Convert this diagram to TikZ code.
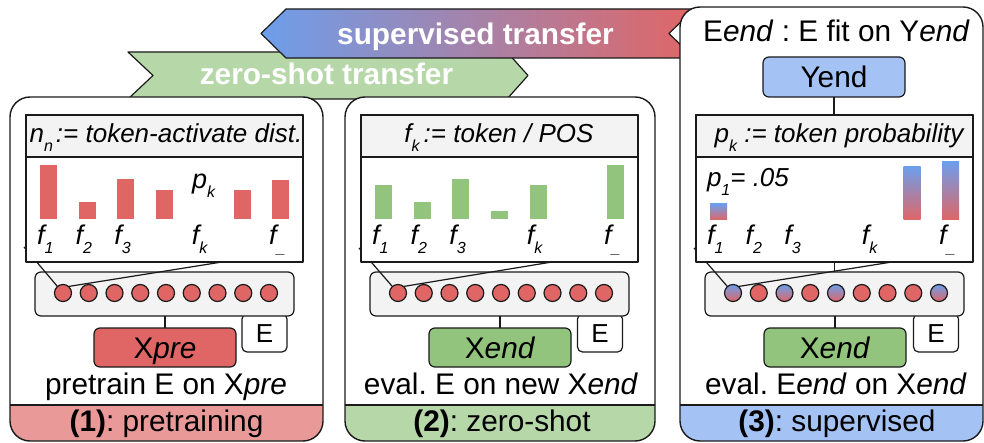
\documentclass[tikz,border=0pt]{standalone}
\usepackage{fontspec}
\setmainfont{Liberation Sans}
\frenchspacing
\definecolor{cRed}{HTML}{E06666}
\definecolor{cGreen}{HTML}{93C47D}
\definecolor{cBlue}{HTML}{6D9EEB}
\definecolor{cBlueLt}{HTML}{A4C2F4}
\definecolor{cRedLt}{HTML}{EA9999}
\definecolor{cGreenLt}{HTML}{B6D7A8}
\definecolor{cGray}{HTML}{F3F3F3}
\definecolor{cLine}{HTML}{1A1A1A}
% lowered subscript as used in the labels
\newcommand\lsub[1]{\raisebox{-8.5pt}{\fontsize{16}{16}\selectfont #1}}
% rounded panel with a coloured caption band at the bottom
\newcommand\drawpanel[5]{%
  \fill[white, rounded corners=20pt] (#1,#2) rectangle (#3,#4);
  \begin{scope}
    \clip[rounded corners=20pt] (#1,#2) rectangle (#3,#4);
    \fill[#5] (#1,405) rectangle (#3,#4);
  \end{scope}
  \draw[ln] (#1,405) -- (#3,405);
  \draw[pnl] (#1,#2) rectangle (#3,#4);
}
\begin{document}
\begin{tikzpicture}[x=1pt, y=-1pt, line join=round,
  every node/.style={inner sep=0pt, outer sep=0pt},
  ln/.style={draw=cLine, line width=1.2pt},
  pnl/.style={draw=cLine, line width=1.4pt, rounded corners=20pt},
  bigtxt/.style={font=\fontsize{29.8}{34}\selectfont},
  hdrtxt/.style={font=\fontsize{26}{30}\selectfont\itshape},
  bantxt/.style={font=\fontsize{29.8}{34}\selectfont\bfseries, text=white},
  hbox/.style={draw=cLine, line width=1.2pt, fill=white, rectangle, anchor=north west,
    minimum width=277pt, minimum height=147pt},
  hstrip/.style={draw=cLine, line width=1.2pt, fill=cGray, rectangle, anchor=north west,
    minimum width=277pt, minimum height=42pt},
  tokbox/.style={draw=cLine, line width=1.2pt, fill=cGray, rounded corners=6pt,
    anchor=north west, minimum width=259pt, minimum height=44pt},
  tok/.style={circle, draw=cLine, line width=1.2pt, minimum size=17pt},
  ebox/.style={draw=cLine, line width=1.2pt, fill=white, rounded corners=5pt, anchor=north,
    minimum width=45pt, minimum height=38pt, font=\fontsize{26}{30}\selectfont,
    text height=18.6pt, text depth=0pt},
  xbox/.style={draw=cLine, line width=1.2pt, rounded corners=6pt, anchor=north,
    minimum width=142pt, minimum height=39pt, font=\fontsize{29.8}{34}\selectfont,
    text height=21.3pt, text depth=0pt},
  flab/.style={font=\fontsize{27}{30}\selectfont\itshape, anchor=base west},
]
\useasboundingbox (0,0) rectangle (984,443);

% ---------- transfer banners ----------
\filldraw[fill=cGreenLt, draw=cLine, line width=1.2pt]
  (128,52) -- (507,52) -- (528,75.5) -- (507,99) -- (128,99) -- (153,75.5) -- cycle;
\node[bantxt, anchor=base] (zs) at (326.5,85) {zero-shot transfer};

\shade[left color=cBlue, right color=cRed]
  (286,9) -- (694,9) -- (669,33.5) -- (694,58) -- (286,58) -- (261,33.5) -- cycle;
\draw[ln] (286,9) -- (694,9) -- (669,33.5) -- (694,58) -- (286,58) -- (261,33.5) -- cycle;
\node[bantxt, anchor=base] (sv) at (475.5,45) {supervised transfer};

% ---------- panel 1: pretraining ----------
\drawpanel{10}{97}{323}{441}{cRedLt}
\node[ebox] (e1) at (264.5,314) {E};
\node[tokbox] (tok1) at (35,272) {};
\foreach \i in {1,...,9}
  \node[tok, fill=cRed] (c1-\i) at ({63+25.75*(\i-1)},293) {};
\coordinate (ta1) at (24,247);
\coordinate (tb1) at (222,262);
\draw[ln] (ta1) -- (c1-1);
\draw[ln] (tb1) -- (c1-1.50);
\node[hbox] (hb1) at (26,115) {};
\node[hstrip] (hs1) at (26,115) {};
\node[hdrtxt, anchor=base] (ht1) at (166,143) {n\lsub{n}\hspace{3pt}:= token-activate dist.};
\foreach \j/\t in {0/165,1/202,2/179,3/190,5/190,6/180}
  \fill[cRed] ({40+38.7*\j},\t) rectangle ({57+38.7*\j},219);
\foreach \j/\s in {0/1,1/2,2/3,4/k,6/\_}
  \node[flab] (fa-\j) at ({37+38.7*\j},245) {f\lsub{\s}};
\node[flab] (pk1) at (192,189) {p\lsub{k}};
\node[xbox, fill=cRed] (x1) at (165,328) {X\textit{pre}};
\draw[ln] (x1.north) -- (x1.north |- tok1.south);
\node[bigtxt, anchor=base] (cap1) at (166,394) {pretrain E on X\textit{pre}};
\node[bigtxt, anchor=base] (band1) at (166.5,431) {\textbf{(1)}: pretraining};

% ---------- panel 2: zero-shot ----------
\drawpanel{345}{97}{655}{441}{cGreenLt}
\node[ebox] (e2) at (600,314) {E};
\node[tokbox] (tok2) at (370,272) {};
\foreach \i in {1,...,9}
  \node[tok, fill=cRed] (c2-\i) at ({398+25.75*(\i-1)},293) {};
\coordinate (ta2) at (359,248);
\coordinate (tb2) at (552,262);
\draw[ln] (ta2) -- (c2-1);
\draw[ln] (tb2) -- (c2-1.50);
\node[hbox] (hb2) at (361,115) {};
\node[hstrip] (hs2) at (361,115) {};
\node[hdrtxt, anchor=base] (ht2) at (499,143) {f\lsub{k}\hspace{4pt}:= token / POS};
\foreach \j/\t in {0/185,1/202,2/179,3/211,4/185,6/165}
  \fill[cGreen] ({375+38.7*\j},\t) rectangle ({392+38.7*\j},219);
\foreach \j/\s in {0/1,1/2,2/3,4/k,6/\_}
  \node[flab] (fb-\j) at ({372+38.7*\j},245) {f\lsub{\s}};
\node[xbox, fill=cGreen] (x2) at (500,328) {X\textit{end}};
\draw[ln] (x2.north) -- (x2.north |- tok2.south);
\node[bigtxt, anchor=base] (cap2) at (501,394) {eval. E on new X\textit{end}};
\node[bigtxt, anchor=base] (band2) at (502,431) {\textbf{(2)}: zero-shot};

% ---------- panel 3: supervised ----------
\drawpanel{680}{7}{983}{441}{cBlueLt}
\node[bigtxt, anchor=base] (t3) at (836.5,42) {E\textit{end} : E fit on Y\textit{end}};
\node[xbox, fill=cBlueLt, minimum height=40pt] (y3) at (834,57) {Yend};
\node[ebox] (e3) at (936,314) {E};
\node[tokbox] (tok3) at (705,272) {};
\foreach \i in {2,4,6,7,8}
  \node[tok, fill=cRed] (c3-\i) at ({733+25.75*(\i-1)},293) {};
\foreach \i in {1,3,5,9}
  \node[tok, top color=cBlue, bottom color=cRed] (c3-\i) at ({733+25.75*(\i-1)},293) {};
\coordinate (ta3) at (694,248);
\coordinate (tb3) at (892,262);
\draw[ln] (ta3) -- (c3-1);
\draw[ln] (tb3) -- (c3-1.50);
\node[hbox] (hb3) at (696,115) {};
\node[hstrip] (hs3) at (696,115) {};
\node[hdrtxt, anchor=base] (ht3) at (839,143) {p\lsub{k} := token probability};
\draw[ln] (y3.south) -- (y3.south |- hb3.north);
\draw[ln] (hb3.south) -- (hb3.south |- tok3.north);
\foreach \j/\t in {0/204,5/167,6/162}
  \shade[top color=cBlue, bottom color=cRed] ({710+38.7*\j},\t) rectangle ({727+38.7*\j},220);
\foreach \j/\s in {0/1,1/2,2/3,4/k,6/\_}
  \node[flab] (fc-\j) at ({707+38.7*\j},245) {f\lsub{\s}};
\node[flab, font=\fontsize{26}{30}\selectfont\itshape] (p1v) at (707,187) {p\lsub{1}= .05};
\node[xbox, fill=cGreen] (x3) at (835,328) {X\textit{end}};
\draw[ln] (x3.north) -- (x3.north |- tok3.south);
\node[bigtxt, anchor=base] (cap3) at (836,394) {eval. E\textit{end} on X\textit{end}};
\node[bigtxt, anchor=base] (band3) at (837,431) {\textbf{(3)}: supervised};
\end{tikzpicture}
\end{document}
